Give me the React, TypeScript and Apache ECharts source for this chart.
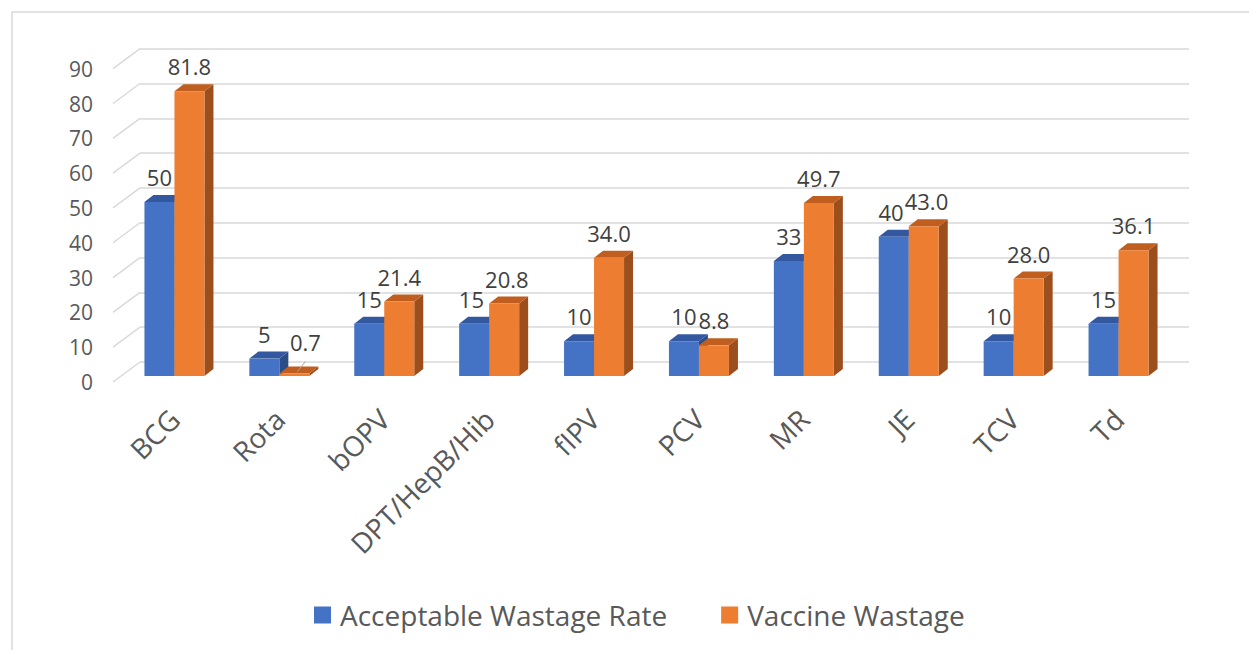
import React, { useEffect, useRef } from "react";
import * as echarts from "echarts";

const categories = ["BCG", "Rota", "bOPV", "DPT/HepB/Hib", "fIPV", "PCV", "MR", "JE", "TCV", "Td"];
const acceptableWastage = [50, 5, 15, 15, 10, 10, 33, 40, 10, 15];
const vaccineWastage = [81.8, 0.7, 21.4, 20.8, 34.0, 8.8, 49.7, 43.0, 28.0, 36.1];
const yTicks = [0, 10, 20, 30, 40, 50, 60, 70, 80, 90];
const seriesNames = ["Acceptable Wastage Rate", "Vaccine Wastage"];

const FONT = "'Open Sans', sans-serif";
const BAR_W = 30;
const DX = 9;
const DY = -7;
const LABEL_GAP = 25;
const LABEL_SIZE = 22;
const COLORS = [
  { front: "#4472C4", top: "#3358A0", side: "#2B4C87" },
  { front: "#ED7D31", top: "#BF5E1E", side: "#9C4F1C" },
];

function textWidth(t: string) {
  let w = 0;
  for (const ch of t) w += ch === "." ? 0.27 : 0.572;
  return w * LABEL_SIZE;
}

function barRenderer(sideIdx: number) {
  return (params: any, api: any) => {
    const idx = api.value(0);
    const val = api.value(1);
    const base = api.coord([idx, 0]);
    const topPt = api.coord([idx, val]);
    const x0 = sideIdx === 0 ? base[0] - BAR_W : base[0];
    const x1 = x0 + BAR_W;
    const yb = base[1];
    const yt = topPt[1];
    const c = COLORS[sideIdx];
    return {
      type: "group",
      children: [
        {
          type: "polygon",
          shape: { points: [[x1, yt], [x1 + DX, yt + DY], [x1 + DX, yb + DY], [x1, yb]] },
          style: { fill: c.side },
        },
        {
          type: "polygon",
          shape: { points: [[x0, yt], [x0 + DX, yt + DY], [x1 + DX, yt + DY], [x1, yt]] },
          style: { fill: c.top },
        },
        {
          type: "rect",
          shape: { x: x0, y: yt, width: BAR_W, height: Math.max(yb - yt, 0.5) },
          style: { fill: c.front },
        },
      ],
    };
  };
}

function labelRenderer(params: any, api: any) {
  const idx = api.value(0);
  const vals = [api.value(1), api.value(2)];
  const base = api.coord([idx, 0]);
  const children: any[] = [];
  const labels = vals.map((v: number, s: number) => {
    const top = api.coord([idx, v])[1];
    const cx = s === 0 ? base[0] - BAR_W / 2 : base[0] + BAR_W / 2;
    const txt = s === 0 ? String(v) : v.toFixed(1);
    let lx = cx;
    let ly = top - LABEL_GAP;
    let leader = false;
    if (v < 2) {
      lx = cx + 11;
      ly = ly - 7;
      leader = true;
    }
    return { txt, lx, ly, leader, w: textWidth(txt) };
  });
  // nudge apart horizontally if the two labels touch
  const a = labels[0];
  const b = labels[1];
  if (Math.abs(a.ly - b.ly) < 22) {
    const overlap = a.lx + a.w / 2 - (b.lx - b.w / 2) + 1;
    if (overlap > 0) {
      a.lx -= overlap / 2;
      b.lx += overlap / 2;
    }
  }
  labels.forEach((l) => {
    if (l.leader) {
      children.push({
        type: "line",
        shape: { x1: l.lx, y1: l.ly + 20, x2: l.lx - 8, y2: l.ly + 30 },
        style: { stroke: "#a6a6a6", lineWidth: 1 },
      });
    }
    children.push({
      type: "text",
      x: l.lx,
      y: l.ly,
      style: {
        text: l.txt,
        fontSize: LABEL_SIZE,
        fontFamily: FONT,
        fill: "#404040",
        align: "center",
        verticalAlign: "middle",
      },
    });
  });
  return { type: "group", children };
}

export default function App() {
  const ref = useRef<HTMLDivElement>(null);
  useEffect(() => {
    if (!ref.current) return;
    const chart = echarts.init(ref.current, undefined, { renderer: "svg" });
    const gridBase = { containLabel: false, outerBoundsMode: "none" };
    const hiddenY = {
      type: "value",
      min: 0,
      max: 90,
      interval: 10,
      axisLabel: { show: false },
      axisLine: { show: false },
      axisTick: { show: false },
      splitLine: { show: false },
    };
    chart.setOption({
      animation: false,
      textStyle: { fontFamily: FONT },
      graphic: [
        {
          type: "rect",
          silent: true,
          shape: { x: 12, y: 12, width: 1280, height: 700 },
          style: { fill: "none", stroke: "#d9d9d9", lineWidth: 1.5 },
        },
      ],
      grid: [
        { ...gridBase, left: 140, right: 60, top: 48.7, bottom: 288 },
        { ...gridBase, left: 122, right: 78, top: 62.7, bottom: 274 },
        { ...gridBase, left: 113, right: 87, top: 68.7, bottom: 268 },
      ],
      xAxis: [
        { gridIndex: 0, type: "category", data: categories, show: false },
        {
          gridIndex: 1,
          type: "category",
          data: categories,
          axisLine: { show: false },
          axisTick: { show: false },
          axisLabel: {
            interval: 0,
            rotate: 45,
            margin: 38,
            fontSize: 28,
            color: "#595959",
            fontFamily: FONT,
          },
        },
        { gridIndex: 2, type: "value", min: 0, max: 1, show: false },
      ],
      yAxis: [
        {
          ...hiddenY,
          gridIndex: 0,
          splitLine: { show: true, lineStyle: { color: "#d9d9d9", width: 1.5 } },
        },
        { ...hiddenY, gridIndex: 1 },
        {
          ...hiddenY,
          gridIndex: 2,
          axisLabel: { show: true, fontSize: 21, color: "#595959", margin: 20, fontFamily: FONT },
        },
      ],
      legend: {
        data: seriesNames,
        left: 314,
        top: 601,
        padding: 0,
        icon: "rect",
        itemWidth: 17,
        itemHeight: 17,
        itemGap: 54,
        textStyle: { fontSize: 28, color: "#595959", fontFamily: FONT, padding: [0, 0, 0, 4] },
      },
      series: [
        {
          type: "custom",
          name: "diagonals",
          xAxisIndex: 2,
          yAxisIndex: 2,
          silent: true,
          data: yTicks.map((v) => [0, v]),
          renderItem: (params: any, api: any) => {
            const p = api.coord([0, api.value(1)]);
            return {
              type: "line",
              shape: { x1: p[0], y1: p[1], x2: p[0] + 27, y2: p[1] - 20 },
              style: { stroke: "#d9d9d9", lineWidth: 1.5 },
            };
          },
        },
        {
          type: "custom",
          name: seriesNames[0],
          xAxisIndex: 1,
          yAxisIndex: 1,
          itemStyle: { color: COLORS[0].front },
          data: acceptableWastage.map((v, i) => [i, v]),
          renderItem: barRenderer(0),
        },
        {
          type: "custom",
          name: seriesNames[1],
          xAxisIndex: 1,
          yAxisIndex: 1,
          itemStyle: { color: COLORS[1].front },
          data: vaccineWastage.map((v, i) => [i, v]),
          renderItem: barRenderer(1),
        },
        {
          type: "custom",
          name: "labels",
          xAxisIndex: 1,
          yAxisIndex: 1,
          z: 10,
          silent: true,
          data: categories.map((_, i) => [i, acceptableWastage[i], vaccineWastage[i]]),
          renderItem: labelRenderer,
        },
      ],
    });
    return () => chart.dispose();
  }, []);
  return (
    <div
      ref={ref}
      style={{ position: "fixed", left: 0, top: 0, width: 1249, height: 650, background: "#fff" }}
    />
  );
}
